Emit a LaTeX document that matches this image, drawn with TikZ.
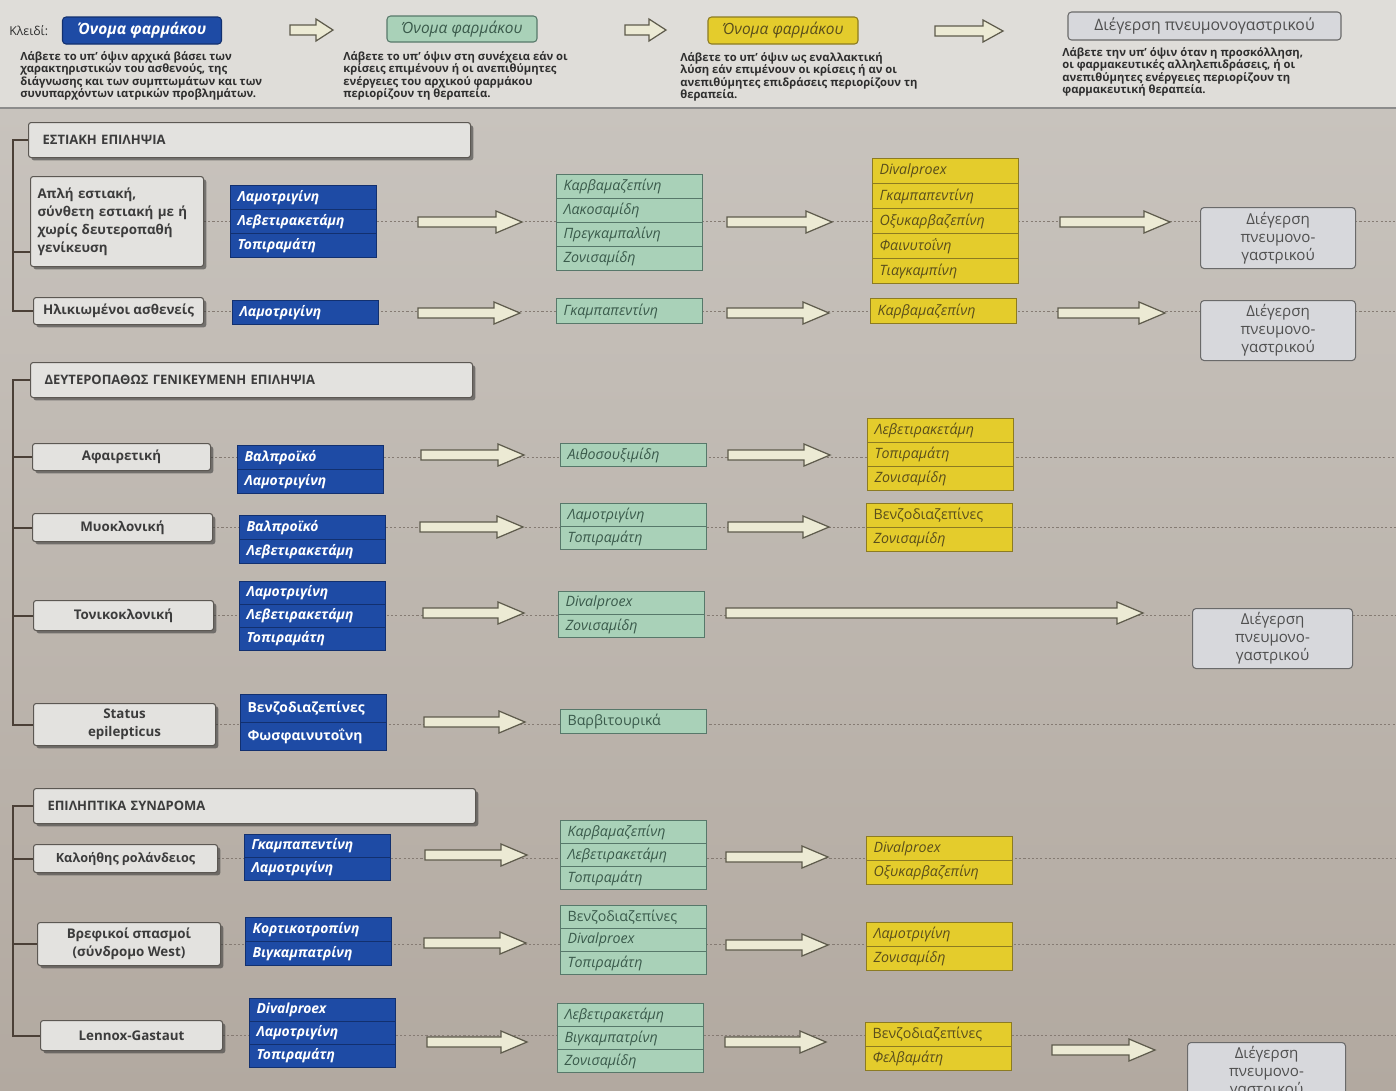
\documentclass[tikz,border=0pt]{standalone}
\usepackage{fontspec}
\setmainfont{Open Sans}
\usetikzlibrary{calc,shadows}
\pgfdeclarelayer{back}
\pgfdeclarelayer{lines}
\pgfsetlayers{back,lines,main}

\definecolor{hdrbg}{HTML}{DFDDD9}
\definecolor{bodytop}{HTML}{C8C3BD}
\definecolor{bodybot}{HTML}{B2A9A0}
\definecolor{dblue}{HTML}{1E4BA5}
\definecolor{dbluedk}{HTML}{12306F}
\definecolor{mgreen}{HTML}{A9D1B8}
\definecolor{mgreendk}{HTML}{57786A}
\definecolor{mgreentx}{HTML}{3A5A4B}
\definecolor{myellow}{HTML}{E4CC2C}
\definecolor{myellowdk}{HTML}{8C7B22}
\definecolor{myellowtx}{HTML}{5A4E1C}
\definecolor{greybox}{HTML}{D7D8DC}
\definecolor{greyboxdk}{HTML}{6A6A6A}
\definecolor{greytx}{HTML}{505050}
\definecolor{condfill}{HTML}{E3E2DF}
\definecolor{condline}{HTML}{5C5853}
\definecolor{condtx}{HTML}{3C3C3C}
\definecolor{treeline}{HTML}{4B4037}
\definecolor{dotcol}{HTML}{857B73}
\definecolor{arrfill}{HTML}{ECEAD4}
\definecolor{arrline}{HTML}{5E5B4C}
\definecolor{desctx}{HTML}{2E2E2E}

\newdimen\pxu \pxu=0.02cm

\tikzset{
 cellbase/.style={anchor=north west, text width=132\pxu, inner xsep=7\pxu, inner ysep=0pt, align=left, line width=0.6pt},
 bluecell/.style={cellbase, fill=dblue, draw=dbluedk, text=white, font=\fontsize{7.9}{9}\selectfont\bfseries\itshape},
 greencell/.style={cellbase, fill=mgreen, draw=mgreendk, text=mgreentx, font=\fontsize{8.1}{9}\selectfont\itshape},
 yellowcell/.style={cellbase, fill=myellow, draw=myellowdk, text=myellowtx, font=\fontsize{8.1}{9}\selectfont\itshape},
 condbox/.style={anchor=north west, fill=condfill, draw=condline, line width=0.6pt, rounded corners=1.5pt, align=center, inner sep=0pt, text=condtx, font=\fontsize{7.6}{10.2}\selectfont\bfseries, drop shadow={shadow xshift=1.6pt, shadow yshift=-1.6pt, opacity=0.55, fill=black!80}},
 secbox/.style={anchor=north west, fill=condfill, draw=condline, line width=0.6pt, rounded corners=1.5pt, align=left, text width=414\pxu, inner xsep=14\pxu, inner ysep=0pt, minimum height=35\pxu, text=condtx, font=\fontsize{7.4}{9}\selectfont\bfseries, drop shadow={shadow xshift=1.6pt, shadow yshift=-1.6pt, opacity=0.55, fill=black!80}},
 endbox/.style={anchor=north west, fill=greybox, draw=greyboxdk, line width=0.6pt, rounded corners=2pt, align=center, text=greytx, font=\fontsize{8.6}{10.2}\selectfont, inner sep=0pt},
 keybox/.style={rounded corners=2pt, line width=0.6pt, inner sep=0pt},
 tree/.style={draw=treeline, line width=1.1pt},
 dotline/.style={draw=dotcol, line width=0.5pt, dash pattern=on 1.2pt off 1.2pt},
 fatarr/.style={fill=arrfill, draw=arrline, line width=0.7pt, line join=miter},
 desc/.style={anchor=north west, align=left, inner sep=0pt, text=desctx, font=\fontsize{6.4}{7.1}\selectfont\bfseries},
}

\newcommand\drugstack[6]{%
  \foreach \drug [count=\i] in {#6} {%
    \node[#2, minimum height=#5\pxu] (#1-\i) at ({#3},{#4+(\i-1)*#5}) {\drug};
  }%
}
% fat arrow: name, x1, x2, y, shaft half, head half, head length
\newcommand\farr[7]{%
  \coordinate (#1-s) at (#2,#4);
  \coordinate (#1-e) at (#3,#4);
  \draw[fatarr] ($(#1-s)+(0,-#5)$) -- ($(#1-e)+(-#7,-#5)$) -- ($(#1-e)+(-#7,-#6)$) -- (#1-e)
     -- ($(#1-e)+(-#7,#6)$) -- ($(#1-e)+(-#7,#5)$) -- ($(#1-s)+(0,#5)$) -- cycle;
}

\begin{document}
\begin{tikzpicture}[x=0.02cm, y=-0.02cm]
\useasboundingbox (0,0) rectangle (1396,1090);

\begin{pgfonlayer}{back}
  \fill[hdrbg] (0,0) rectangle (1396,108);
  \shade[top color=bodytop, bottom color=bodybot] (0,108) rectangle (1396,1090);
  \draw[black!45, line width=1.6pt] (0,108) -- (1396,108);
\end{pgfonlayer}

% ---------- header ----------
\node[anchor=west, inner sep=0pt, font=\fontsize{7}{8}\selectfont, text=desctx] (keylbl) at (9,31) {Κλειδί:};
\node[keybox, fill=dblue, draw=dbluedk, text=white, minimum width=159\pxu, minimum height=27\pxu, font=\fontsize{8.8}{10}\selectfont\bfseries\itshape] (kblue) at (142,30.5) {Όνομα φαρμάκου};
\node[keybox, fill=mgreen, draw=mgreendk, text=mgreentx, minimum width=150\pxu, minimum height=26\pxu, font=\fontsize{8.8}{10}\selectfont\itshape] (kgreen) at (462,29) {Όνομα φαρμάκου};
\node[keybox, fill=myellow, draw=myellowdk, text=myellowtx, minimum width=150\pxu, minimum height=27\pxu, font=\fontsize{8.8}{10}\selectfont\itshape] (kyellow) at (783,30.5) {Όνομα φαρμάκου};
\node[keybox, fill=greybox, draw=greyboxdk, text=greytx, minimum width=273\pxu, minimum height=28\pxu, font=\fontsize{9}{10}\selectfont] (kgrey) at (1204.5,26) {Διέγερση πνευμονογαστρικού};

\farr{h1}{290}{333}{30}{5}{11}{17}
\farr{h2}{625}{666}{30}{5}{11}{17}
\farr{h3}{935}{1003}{31}{5}{11}{20}

\node[desc] (desc1) at (20,51) {Λάβετε το υπ’ όψιν αρχικά βάσει των\\χαρακτηριστικών του ασθενούς, της\\διάγνωσης και των συμπτωμάτων και των\\συνυπαρχόντων ιατρικών προβλημάτων.};
\node[desc] (desc2) at (343,51) {Λάβετε το υπ’ όψιν στη συνέχεια εάν οι\\κρίσεις επιμένουν ή οι ανεπιθύμητες\\ενέργειες του αρχικού φαρμάκου\\περιορίζουν τη θεραπεία.};
\node[desc] (desc3) at (680,52) {Λάβετε το υπ’ όψιν ως εναλλακτική\\λύση εάν επιμένουν οι κρίσεις ή αν οι\\ανεπιθύμητες επιδράσεις περιορίζουν τη\\θεραπεία.};
\node[desc] (desc4) at (1062,47) {Λάβετε την υπ’ όψιν όταν η προσκόλληση,\\οι φαρμακευτικές αλληλεπιδράσεις, ή οι\\ανεπιθύμητες ενέργειες περιορίζουν τη\\φαρμακευτική θεραπεία.};

% ---------- section headers ----------
\node[secbox] (hdr1) at (28,122) {ΕΣΤΙΑΚΗ ΕΠΙΛΗΨΙΑ};
\node[secbox] (hdr2) at (30,362) {ΔΕΥΤΕΡΟΠΑΘΩΣ ΓΕΝΙΚΕΥΜΕΝΗ ΕΠΙΛΗΨΙΑ};
\node[secbox] (hdr3) at (33,788) {ΕΠΙΛΗΠΤΙΚΑ ΣΥΝΔΡΟΜΑ};

% ---------- condition boxes ----------
\node[condbox, align=left, text width=159\pxu, inner xsep=7\pxu, minimum height=90\pxu] (condA) at (30,176) {Απλή εστιακή,\\σύνθετη εστιακή με ή\\χωρίς δευτεροπαθή\\γενίκευση};
\node[condbox, minimum width=170\pxu, minimum height=27\pxu] (condB) at (33,297) {Ηλικιωμένοι ασθενείς};
\node[condbox, minimum width=178\pxu, minimum height=27\pxu] (condC) at (32,443) {Αφαιρετική};
\node[condbox, minimum width=180\pxu, minimum height=28\pxu] (condD) at (32,513) {Μυοκλονική};
\node[condbox, minimum width=180\pxu, minimum height=30\pxu] (condE) at (33,600) {Τονικοκλονική};
\node[condbox, minimum width=182\pxu, minimum height=42\pxu] (condF) at (33,703) {Status\\epilepticus};
\node[condbox, minimum width=184\pxu, minimum height=28\pxu, font=\fontsize{7.2}{9}\selectfont\bfseries] (condG) at (33,844) {Καλοήθης ρολάνδειος};
\node[condbox, minimum width=183\pxu, minimum height=43\pxu] (condH) at (37,922) {Βρεφικοί σπασμοί\\(σύνδρομο West)};
\node[condbox, minimum width=182\pxu, minimum height=30\pxu] (condI) at (40,1020) {Lennox-Gastaut};

% ---------- first line (blue) ----------
\drugstack{blueA}{bluecell}{230}{185}{24}{Λαμοτριγίνη, Λεβετιρακετάμη, Τοπιραμάτη}
\drugstack{blueB}{bluecell}{232}{300}{24}{Λαμοτριγίνη}
\drugstack{blueC}{bluecell}{237}{445}{24}{Βαλπροϊκό, Λαμοτριγίνη}
\drugstack{blueD}{bluecell}{239}{515}{24}{Βαλπροϊκό, Λεβετιρακετάμη}
\drugstack{blueE}{bluecell}{239}{581}{23}{Λαμοτριγίνη, Λεβετιρακετάμη, Τοπιραμάτη}
\drugstack{blueF}{bluecell}{240}{694}{28}{{\upshape Βενζοδιαζεπίνες}, {\upshape Φωσφαινυτοΐνη}}
\drugstack{blueG}{bluecell}{244}{834}{23}{Γκαμπαπεντίνη, Λαμοτριγίνη}
\drugstack{blueH}{bluecell}{245}{917}{24}{Κορτικοτροπίνη, Βιγκαμπατρίνη}
\drugstack{blueI}{bluecell}{249}{998}{23}{Divalproex, Λαμοτριγίνη, Τοπιραμάτη}

% ---------- second line (green) ----------
\drugstack{greenA}{greencell}{556}{174}{24}{Καρβαμαζεπίνη, Λακοσαμίδη, Πρεγκαμπαλίνη, Ζονισαμίδη}
\drugstack{greenB}{greencell}{556}{298}{25}{Γκαμπαπεντίνη}
\drugstack{greenC}{greencell}{560}{443}{23}{Αιθοσουξιμίδη}
\drugstack{greenD}{greencell}{560}{503}{23}{Λαμοτριγίνη, Τοπιραμάτη}
\drugstack{greenE}{greencell}{558}{591}{23}{Divalproex, Ζονισαμίδη}
\drugstack{greenF}{greencell}{560}{709}{24}{{\upshape Βαρβιτουρικά}}
\drugstack{greenG}{greencell}{560}{820}{23}{Καρβαμαζεπίνη, Λεβετιρακετάμη, Τοπιραμάτη}
\drugstack{greenH}{greencell}{560}{905}{23}{{\upshape Βενζοδιαζεπίνες}, Divalproex, Τοπιραμάτη}
\drugstack{greenI}{greencell}{557}{1003}{23}{Λεβετιρακετάμη, Βιγκαμπατρίνη, Ζονισαμίδη}

% ---------- alternative (yellow) ----------
\drugstack{yelA}{yellowcell}{872}{158}{25}{Divalproex, Γκαμπαπεντίνη, Οξυκαρβαζεπίνη, Φαινυτοΐνη, Τιαγκαμπίνη}
\drugstack{yelB}{yellowcell}{870}{298}{25}{Καρβαμαζεπίνη}
\drugstack{yelC}{yellowcell}{867}{418}{24}{Λεβετιρακετάμη, Τοπιραμάτη, Ζονισαμίδη}
\drugstack{yelD}{yellowcell}{866}{503}{24}{{\upshape Βενζοδιαζεπίνες}, Ζονισαμίδη}
\drugstack{yelG}{yellowcell}{866}{836}{24}{Divalproex, Οξυκαρβαζεπίνη}
\drugstack{yelH}{yellowcell}{866}{922}{24}{Λαμοτριγίνη, Ζονισαμίδη}
\drugstack{yelI}{yellowcell}{865}{1022}{24}{{\upshape Βενζοδιαζεπίνες}, Φελβαμάτη}

% ---------- vagus nerve stimulation ----------
\node[endbox, minimum width=155\pxu, minimum height=61\pxu] (endA) at (1200,207) {Διέγερση\\πνευμονο-\\γαστρικού};
\node[endbox, minimum width=155\pxu, minimum height=60\pxu] (endB) at (1200,300) {Διέγερση\\πνευμονο-\\γαστρικού};
\node[endbox, minimum width=160\pxu, minimum height=60\pxu] (endE) at (1192,608) {Διέγερση\\πνευμονο-\\γαστρικού};
\node[endbox, minimum width=158\pxu, minimum height=60\pxu] (endI) at (1187,1042) {Διέγερση\\πνευμονο-\\γαστρικού};

% ---------- arrows ----------
\farr{aA1}{418}{522}{222}{5}{11}{26}
\farr{aA2}{727}{832}{222}{5}{11}{26}
\farr{aA3}{1060}{1170}{222}{5}{11}{26}
\farr{aB1}{418}{520}{313}{5}{11}{26}
\farr{aB2}{727}{829}{313}{5}{11}{26}
\farr{aB3}{1058}{1165}{313}{5}{11}{26}
\farr{aC1}{421}{524}{455}{5}{11}{26}
\farr{aC2}{728}{830}{455}{5}{11}{26}
\farr{aD1}{420}{523}{527}{5}{11}{26}
\farr{aD2}{728}{829}{527}{5}{11}{26}
\farr{aE1}{423}{524}{613}{5}{11}{26}
\farr{aE2}{726}{1143}{613}{5}{11}{26}
\farr{aF1}{424}{525}{722}{5}{11}{26}
\farr{aG1}{425}{527}{855}{5}{11}{26}
\farr{aG2}{726}{828}{857}{5}{11}{26}
\farr{aH1}{424}{526}{943}{5}{11}{26}
\farr{aH2}{726}{828}{945}{5}{11}{26}
\farr{aI1}{427}{527}{1042}{5}{11}{26}
\farr{aI2}{725}{826}{1042}{5}{11}{26}
\farr{aI3}{1052}{1155}{1050}{5}{11}{26}

% ---------- lines behind ----------
\begin{pgfonlayer}{lines}
  \coordinate (edgeR) at (1396,0);
  \coordinate (trunk) at (13,0);
  \coordinate (tickA) at (13,252);
  \foreach \c in {condA,condB,condC,condD,condE,condF,condG,condH,condI}
    \draw[dotline] (\c.east) -- (\c.east -| edgeR);
  % section 1
  \draw[tree] (hdr1.west) -| (trunk |- condB.west) -- (condB.west);
  \draw[tree] (tickA) -- (tickA -| condA.west);
  % section 2
  \draw[tree] (hdr2.west) -| (trunk |- condF.west) -- (condF.west);
  \draw[tree] (trunk |- condC.west) -- (condC.west);
  \draw[tree] (trunk |- condD.west) -- (condD.west);
  \draw[tree] (trunk |- condE.west) -- (condE.west);
  % section 3
  \draw[tree] (hdr3.west) -| (trunk |- condI.west) -- (condI.west);
  \draw[tree] (trunk |- condG.west) -- (condG.west);
  \draw[tree] (trunk |- condH.west) -- (condH.west);
\end{pgfonlayer}
\end{tikzpicture}
\end{document}
